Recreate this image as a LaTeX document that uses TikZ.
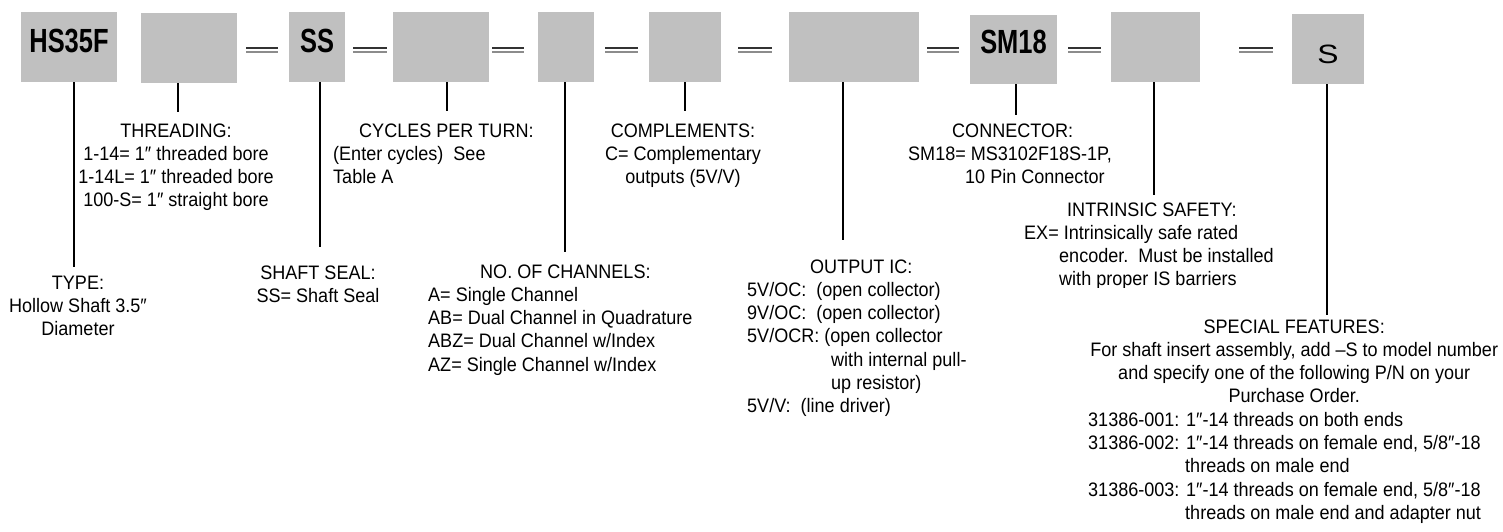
\documentclass[tikz,border=0pt]{standalone}
\usepackage{fontspec}
\setmainfont{Liberation Sans}[FakeStretch=0.925]
\newfontfamily\bigfont{Liberation Sans}[FakeStretch=0.76]
\newfontfamily\plainfont{Liberation Sans}[FakeStretch=1.2]
\definecolor{boxgray}{RGB}{192,192,192}
\newcommand\blk[2]{\begin{tabular}[t]{@{}#1@{}}#2\end{tabular}}
\newcommand\bx[2]{\raisebox{#1}[0pt][0pt]{#2}}
\begin{document}
\begin{tikzpicture}[x=1pt,y=-1pt,
  box/.style={fill=boxgray, draw=none, inner sep=0pt,
    font=\bigfont\bfseries\fontsize{33.5}{36}\selectfont},
  plainbox/.style={box, font=\plainfont\fontsize{26.5}{30}\selectfont},
  lbl/.style={inner sep=0pt, font=\fontsize{19.5}{23.3}\selectfont, text=black},
  conn/.style={draw=black, line width=1.2pt},
  eqa/.style={draw=black!80, line width=1.6pt},
  eqb/.style={draw=black!45, line width=1.6pt}]
\useasboundingbox (0,0) rectangle (1503,531);
% boxes
\node[box, minimum width=96pt, minimum height=70pt] (b1) at (69,47) {\bx{-5pt}{HS35F}};
\node[box, minimum width=96pt, minimum height=70pt] (b2) at (189,48) {};
\node[box, minimum width=56pt, minimum height=70pt] (b3) at (317,47) {\bx{-5pt}{SS}};
\node[box, minimum width=96pt, minimum height=70pt] (b4) at (441,47) {};
\node[box, minimum width=56pt, minimum height=70pt] (b5) at (566,47) {};
\node[box, minimum width=72pt, minimum height=70pt] (b6) at (685,47) {};
\node[box, minimum width=130pt, minimum height=70pt] (b7) at (854,47) {};
\node[box, minimum width=87pt, minimum height=69pt] (b8) at (1013.5,49.5) {\bx{-3.5pt}{SM18}};
\node[box, minimum width=89pt, minimum height=70pt] (b9) at (1155.5,47) {};
\node[plainbox, minimum width=72pt, minimum height=70pt] (b10) at (1328,49) {\bx{-14pt}{S}};
% equal signs
\foreach \a/\b in {246/278, 353/387, 492/524, 605/638, 738/772, 927/959, 1068/1101, 1239/1273}{
  \draw[eqa] (\a,48) -- (\b,48);
  \draw[eqb] (\a,52) -- (\b,52);
}
% connector ends
\coordinate (c1) at (74,267);
\coordinate (c2) at (178,112);
\coordinate (c3) at (320,247);
\coordinate (c4) at (447,111);
\coordinate (c5) at (565,252);
\coordinate (c6) at (685,111);
\coordinate (c7) at (843,240);
\coordinate (c8) at (1016,115);
\coordinate (c9) at (1154,195);
\coordinate (c10) at (1327,315);
\foreach \i in {1,...,10}{\draw[conn] (b\i.south -| c\i) -- (c\i);}
% labels
\node[lbl, anchor=base] (L1) at (78,289) {\blk{c}{TYPE:\\Hollow Shaft 3.5″\\Diameter}};
\node[lbl, anchor=base] (L2) at (176,137) {\blk{c}{THREADING:\\1-14= 1″ threaded bore\\1-14L= 1″ threaded bore\\100-S= 1″ straight bore}};
\node[lbl, anchor=base] (L3) at (318,279) {\blk{c}{SHAFT SEAL:\\SS= Shaft Seal}};
\node[lbl, anchor=base west] (L4) at (333,137) {\blk{l}{\hspace*{26pt}CYCLES PER TURN:\\(Enter cycles)\ \ See\\Table A}};
\node[lbl, anchor=base west] (L5) at (428,278) {\blk{l}{\hspace*{52pt}NO. OF CHANNELS:\\A= Single Channel\\AB= Dual Channel in Quadrature\\ABZ= Dual Channel w/Index\\AZ= Single Channel w/Index}};
\node[lbl, anchor=base] (L6) at (683,137) {\blk{c}{COMPLEMENTS:\\C= Complementary\\outputs (5V/V)}};
\node[lbl, anchor=base west] (L7) at (747,273) {\blk{l}{\hspace*{63pt}OUTPUT IC:\\5V/OC:\ \ (open collector)\\9V/OC:\ \ (open collector)\\5V/OCR: (open collector\\\hspace*{84pt}with internal pull-\\\hspace*{84pt}up resistor)\\5V/V:\ \ (line driver)}};
\node[lbl, anchor=base west] (L8) at (908,137) {\blk{l}{\hspace*{44pt}CONNECTOR:\\SM18= MS3102F18S-1P,\\\hspace*{57pt}10 Pin Connector}};
\begin{scope}
\clip (1000,190) rectangle (1300,287.5);
\node[lbl, anchor=base west] (L9) at (1024,216) {\blk{l}{\hspace*{43pt}INTRINSIC SAFETY:\\EX= Intrinsically safe rated\\\hspace*{35pt}encoder.\ \ Must be installed\\\hspace*{35pt}with proper IS barriers}};
\end{scope}
\node[lbl, anchor=base west] (L10) at (1088,333) {\blk{l}{%
\makebox[412pt][c]{SPECIAL FEATURES:}\\
\makebox[412pt][c]{For shaft insert assembly, add –S to model number}\\
\makebox[412pt][c]{and specify one of the following P/N on your}\\
\makebox[412pt][c]{Purchase Order.}\\
31386-001: 1″-14 threads on both ends\\
31386-002: 1″-14 threads on female end, 5/8″-18\\
\hspace*{97pt}threads on male end\\
31386-003: 1″-14 threads on female end, 5/8″-18\\
\hspace*{97pt}threads on male end and adapter nut}};
\end{tikzpicture}
\end{document}
